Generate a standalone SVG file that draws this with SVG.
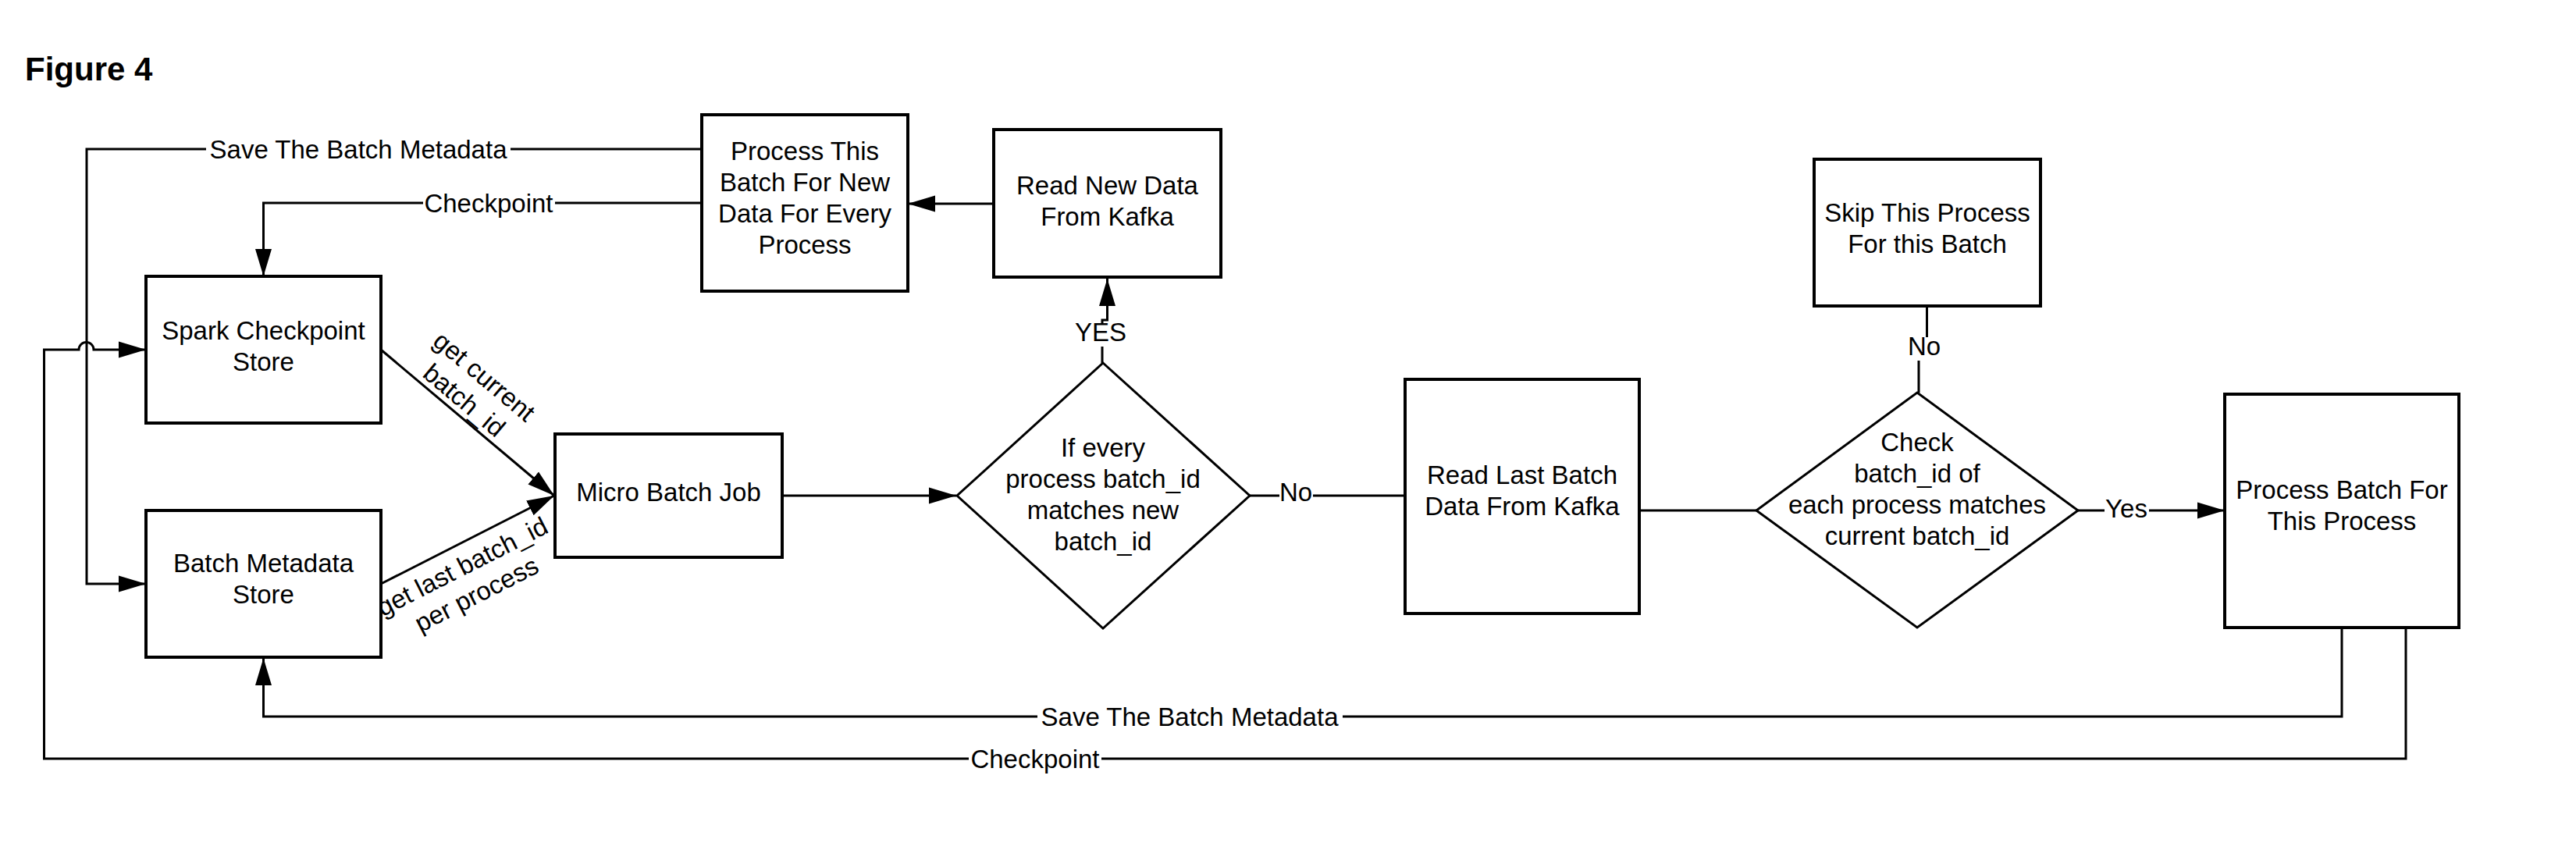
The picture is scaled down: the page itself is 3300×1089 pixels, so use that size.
<svg xmlns="http://www.w3.org/2000/svg" width="3300" height="1089" viewBox="0 0 3300 1089">
<style>
.box{fill:#fff;stroke:#000;stroke-width:4}
.dia{fill:#fff;stroke:#000;stroke-width:3}
.ln{fill:none;stroke:#000;stroke-width:3}
.t{font-family:"Liberation Sans",Arial,sans-serif;font-size:33px;fill:#000;text-anchor:middle}
.lb{fill:#fff;stroke:none}
</style>
<defs>
<marker id="ah" markerUnits="userSpaceOnUse" markerWidth="36" markerHeight="22" refX="35" refY="11" orient="auto">
<path d="M0,0.5 L35,11 L0,21.5 z" fill="#000"/>
</marker>
</defs>
<rect width="3300" height="1089" fill="#fff"/>
<text x="32" y="103" style="font-family:'Liberation Sans',Arial,sans-serif;font-size:42px;font-weight:bold">Figure 4</text>

<g id="connectors">
<path class="ln" d="M899,191 H111 V748 H187" marker-end="url(#ah)"/>
<path class="ln" d="M899,260 H337.5 V354" marker-end="url(#ah)"/>
<path class="ln" d="M1273,261 H1163" marker-end="url(#ah)"/>
<path class="ln" d="M1412,465 V410 H1418.5 V357" marker-end="url(#ah)"/>
<path class="ln" d="M488,448 L710,635" marker-end="url(#ah)"/>
<path class="ln" d="M488,748 L710,635" marker-end="url(#ah)"/>
<path class="ln" d="M1002,635 H1225" marker-end="url(#ah)"/>
<path class="ln" d="M1601,635 H1800"/>
<path class="ln" d="M2100,654 H2250"/>
<path class="ln" d="M2458,503 V447 H2468.5 V392"/>
<path class="ln" d="M2662,654 H2850" marker-end="url(#ah)"/>
<path class="ln" d="M3000,804 V918 H337.5 V843" marker-end="url(#ah)"/>
<path class="ln" d="M3082,804 V972 H56.5 V448 H101 A9.5,9.5 0 0 1 120,448 H187" marker-end="url(#ah)"/>
<rect class="lb" x="264" y="175" width="390" height="32"/>
<text class="t" x="459" y="203">Save The Batch Metadata</text>
<rect class="lb" x="542" y="244" width="169" height="32"/>
<text class="t" x="626" y="272">Checkpoint</text>
<rect class="lb" x="1378" y="414" width="64" height="30"/>
<text class="t" x="1410" y="437">YES</text>
<rect class="lb" x="1639" y="619" width="43" height="30"/>
<text class="t" x="1660" y="642">No</text>
<rect class="lb" x="2443" y="432" width="44" height="30"/>
<text class="t" x="2465" y="455">No</text>
<rect class="lb" x="2696" y="638" width="57" height="30"/>
<text class="t" x="2724" y="663">Yes</text>
<rect class="lb" x="1329" y="902" width="391" height="32"/>
<text class="t" x="1524" y="930">Save The Batch Metadata</text>
<rect class="lb" x="1241" y="956" width="170" height="32"/>
<text class="t" x="1326" y="984">Checkpoint</text>
<g transform="translate(608,497) rotate(40)">
<text class="t" x="0" y="-8">get current</text>
<text class="t" x="0" y="32">batch_id</text>
</g>
<g transform="translate(601,743) rotate(-27)">
<text class="t" x="0" y="-8">get last batch_id</text>
<text class="t" x="0" y="32">per process</text>
</g>
</g>

<g id="process-this-batch">
<rect class="box" x="899" y="147" width="264" height="226"/>
<text class="t" x="1031" y="205">Process This</text>
<text class="t" x="1031" y="245">Batch For New</text>
<text class="t" x="1031" y="285">Data For Every</text>
<text class="t" x="1031" y="325">Process</text>
</g>
<g id="read-new-data">
<rect class="box" x="1273" y="166" width="291" height="189"/>
<text class="t" x="1418.5" y="249">Read New Data</text>
<text class="t" x="1418.5" y="289">From Kafka</text>
</g>
<g id="spark-checkpoint-store">
<rect class="box" x="187" y="354" width="301" height="188"/>
<text class="t" x="337.5" y="435">Spark Checkpoint</text>
<text class="t" x="337.5" y="475">Store</text>
</g>
<g id="batch-metadata-store">
<rect class="box" x="187" y="654" width="301" height="188"/>
<text class="t" x="337.5" y="733">Batch Metadata</text>
<text class="t" x="337.5" y="773">Store</text>
</g>
<g id="micro-batch-job">
<rect class="box" x="711" y="556" width="291" height="158"/>
<text class="t" x="856.5" y="642">Micro Batch Job</text>
</g>
<g id="decision-every-process">
<polygon class="dia" points="1413,465 1601,635 1413,805 1226,635"/>
<text class="t" x="1413" y="585">If every</text>
<text class="t" x="1413" y="625">process batch_id</text>
<text class="t" x="1413" y="665">matches new</text>
<text class="t" x="1413" y="705">batch_id</text>
</g>
<g id="read-last-batch">
<rect class="box" x="1800" y="486" width="300" height="300"/>
<text class="t" x="1950" y="620">Read Last Batch</text>
<text class="t" x="1950" y="660">Data From Kafka</text>
</g>
<g id="skip-process">
<rect class="box" x="2324" y="204" width="290" height="188"/>
<text class="t" x="2469" y="284">Skip This Process</text>
<text class="t" x="2469" y="324">For this Batch</text>
</g>
<g id="decision-check-batch">
<polygon class="dia" points="2456,503 2662,654 2456,804 2250,654"/>
<text class="t" x="2456" y="578">Check</text>
<text class="t" x="2456" y="618">batch_id of</text>
<text class="t" x="2456" y="658">each process matches</text>
<text class="t" x="2456" y="698">current batch_id</text>
</g>
<g id="process-batch">
<rect class="box" x="2850" y="505" width="300" height="299"/>
<text class="t" x="3000" y="639">Process Batch For</text>
<text class="t" x="3000" y="679">This Process</text>
</g>
</svg>
